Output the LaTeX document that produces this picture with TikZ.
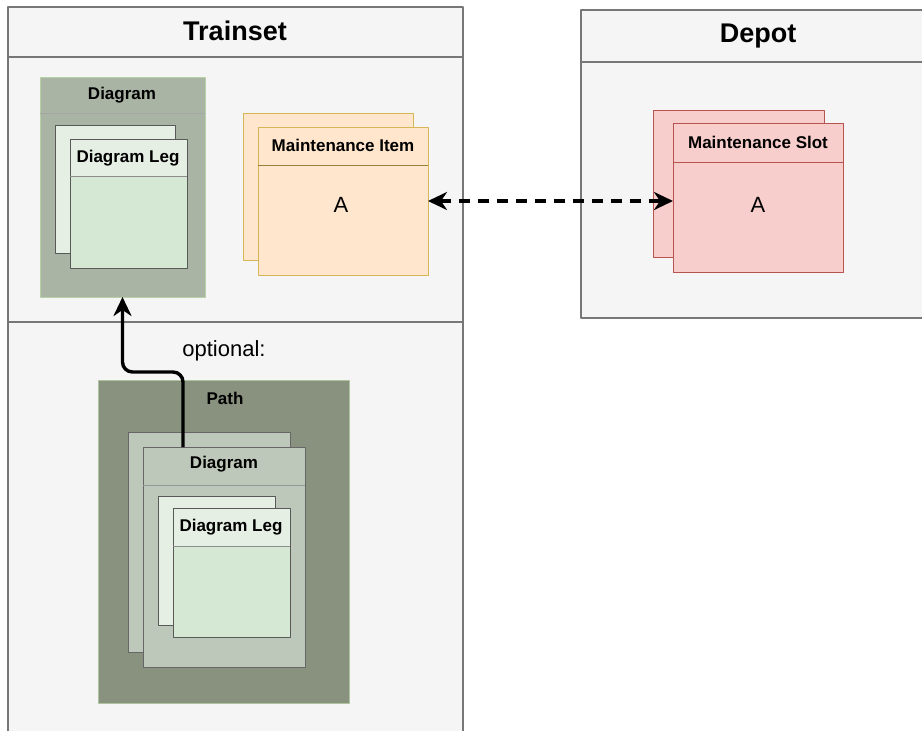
\documentclass[tikz,border=0pt]{standalone}
\usepackage{fontspec}
\setmainfont{Liberation Sans}
\usetikzlibrary{arrows.meta}
\definecolor{pool}{HTML}{F5F5F5}
\definecolor{poolline}{HTML}{777777}
\definecolor{diagfill}{HTML}{A9B4A5}
\definecolor{diagline}{HTML}{B7D1A6}
\definecolor{pathfill}{HTML}{88927F}
\definecolor{pdiagfill}{HTML}{BEC8BA}
\definecolor{leghead}{HTML}{E6EFE4}
\definecolor{legbody}{HTML}{D5E8D4}
\definecolor{itemfill}{HTML}{FFE6CC}
\definecolor{itemline}{HTML}{D6B656}
\definecolor{slotfill}{HTML}{F8CECC}
\definecolor{slotline}{HTML}{B85450}
\begin{document}
\begin{tikzpicture}[x=1pt,y=-1pt,line join=round,>={Stealth[length=19pt,width=18pt,inset=6pt]}]
\tikzset{box/.style={draw,anchor=north west,inner sep=0pt,outer sep=0pt},
	poolbox/.style={box,fill=pool,draw=poolline,line width=1.2pt},
	legbox/.style={box,fill=legbody,draw=black!65,line width=0.8pt,minimum width=117pt,minimum height=129pt},
	itembox/.style={box,fill=itemfill,draw=itemline,line width=1pt,minimum width=170pt,minimum height=148pt},
	slotbox/.style={box,fill=slotfill,draw=slotline,line width=1pt,minimum width=170pt,minimum height=149pt},
	pdiagbox/.style={box,fill=pdiagfill,draw=black!60,line width=0.8pt,minimum width=162pt,minimum height=220pt},
	title/.style={font=\fontsize{27}{30}\selectfont\bfseries},
	hdr/.style={font=\fontsize{17}{20}\selectfont\bfseries},
	txt/.style={font=\fontsize{22}{26}\selectfont},
	flow/.style={line width=3.4pt}}
\clip (0,0) rectangle (922,731);
\fill[white] (0,0) rectangle (922,731);
% containers
\node[poolbox,minimum width=455pt,minimum height=740pt] (trainset) at (8,7) {};
\draw[poolline,line width=1.2pt] (trainset.west |- 0,57) -- (trainset.east |- 0,57);
\draw[poolline,line width=1.2pt] (trainset.west |- 0,322) -- (trainset.east |- 0,322);
\node[title] (trainsettitle) at (235,31) {Trainset};
\node[poolbox,minimum width=360pt,minimum height=308pt] (depot) at (581,10) {};
\draw[poolline,line width=1.2pt] (depot.west |- 0,62) -- (depot.east |- 0,62);
\node[title] (depottitle) at (758,36) {Depot};
% diagram with legs
\node[box,fill=diagfill,draw=diagline,line width=1pt,minimum width=165pt,minimum height=220pt] (diag) at (40,77) {};
\draw[black!35,line width=1pt] (diag.west |- 0,113) -- (diag.east |- 0,113);
\node[hdr] (diaglabel) at (122,95) {Diagram};
\node[legbox,minimum width=120pt,minimum height=128pt,fill=leghead] (legback) at (55,125) {};
\node[legbox] (leg) at (70,139) {};
\fill[leghead] ([shift={(0.5pt,-0.5pt)}]leg.north west) rectangle ([xshift=-0.5pt]leg.east |- 0,176);
\draw[black!45,line width=0.8pt] (leg.west |- 0,176) -- (leg.east |- 0,176);
\node[hdr] (leglabel) at (128,158) {Diagram Leg};
% maintenance item
\node[itembox,minimum height=147pt] (itemback) at (243,113) {};
\node[itembox] (item) at (258,127) {};
\draw[itemline!70!black,line width=0.8pt] (item.west |- 0,165) -- (item.east |- 0,165);
\node[hdr] (itemlabel) at (343,145) {Maintenance Item};
\node[txt] (itema) at (341,205) {A};
% maintenance slot
\node[slotbox,minimum width=171pt,minimum height=147pt] (slotback) at (653,110) {};
\node[slotbox] (slot) at (673,123) {};
\draw[slotline,line width=0.8pt] (slot.west |- 0,162) -- (slot.east |- 0,162);
\node[hdr] (slotlabel) at (758,142) {Maintenance Slot};
\node[txt] (slota) at (758,205) {A};
% path
\node[box,fill=pathfill,draw=diagline!80!pathfill,line width=1pt,minimum width=251pt,minimum height=323pt] (path) at (98,380) {};
\node[hdr] (pathlabel) at (225,398) {Path};
\node[pdiagbox] (pdiagback) at (128,432) {};
\node[pdiagbox] (pdiag) at (143,447) {};
\draw[black!40,line width=0.8pt] (pdiag.west |- 0,485) -- (pdiag.east |- 0,485);
\node[hdr] (pdiaglabel) at (224,464) {Diagram};
\node[legbox,fill=leghead] (plegback) at (158,496) {};
\node[legbox] (pleg) at (173,508) {};
\fill[leghead] ([shift={(0.5pt,-0.5pt)}]pleg.north west) rectangle ([xshift=-0.5pt]pleg.east |- 0,546);
\draw[black!45,line width=0.8pt] (pleg.west |- 0,546) -- (pleg.east |- 0,546);
\node[hdr] (pleglabel) at (231,527) {Diagram Leg};
% connectors
\node[txt] (optional) at (224,351) {optional:};
\coordinate (bend) at (150,372);
\draw[flow,->,rounded corners=10pt] ([xshift=-41pt]pdiag.north) |- (bend) -| (diag.south);
\draw[flow,<->,dash pattern=on 11pt off 8pt] (item.east) -- (item.east -| slot.west);
\end{tikzpicture}
\end{document}
